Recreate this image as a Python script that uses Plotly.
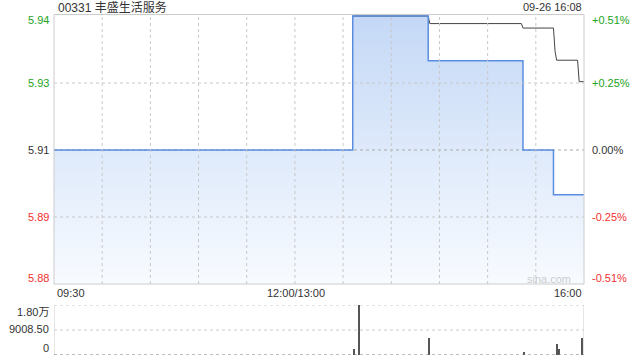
import plotly.graph_objects as go

# ---- data (x = trading minutes since 09:30, lunch break removed) ----
price_t = [0, 186, 233, 292, 311, 330]
price_v = [5.91, 5.94, 5.93, 5.91, 5.90, 5.90]

avg_t = [186, 233, 234, 291, 292, 311, 312, 313, 326, 327, 330]
avg_v = [5.94, 5.94, 5.9383, 5.9383, 5.9373, 5.9373, 5.932, 5.9301, 5.9301, 5.9253, 5.9253]

vol_t = [186.7, 189.8, 233.5, 292.8, 313.0, 314.2, 328.8, 330.6]
vol_v = [2160, 18017, 6230, 970, 3960, 2160, 6230, 6230]

prev_close = 5.91
y_ticks = [5.94, 5.925, 5.91, 5.895, 5.88]
y_labels = ["5.94", "5.93", "5.91", "5.89", "5.88"]
pct_labels = ["+0.51%", "+0.25%", "0.00%", "-0.25%", "-0.51%"]
vol_ticks = [18017, 9008.5, 0]
vol_labels = ["1.80万", "9008.50", "0"]
x_labels = ["09:30", "12:00/13:00", "16:00"]
title_text = "00331 丰盛生活服务"
time_text = "09-26 16:08"

GREEN = "#22a322"
RED = "#f23030"
DARK = "#333333"
FONT = "Liberation Sans, Arial, Noto Sans CJK SC, sans-serif"

fig = go.Figure()

# gradient fill under the price line
fig.add_trace(go.Scatter(
    x=price_t, y=price_v, mode="lines", line=dict(width=0, shape="hv"),
    fill="tozeroy",
    fillgradient=dict(type="vertical", colorscale=[[0, "#f8fbff"], [1, "#c4d8f6"]], start=5.88, stop=5.94),
    xaxis="x", yaxis="y", hoverinfo="skip", showlegend=False))

# previous close reference line
fig.add_trace(go.Scatter(
    x=[0, 330], y=[prev_close, prev_close], mode="lines",
    line=dict(color="#aaaaaa", width=1, dash="dot"),
    xaxis="x", yaxis="y", hoverinfo="skip", showlegend=False))

# average price line
fig.add_trace(go.Scatter(
    x=avg_t, y=avg_v, mode="lines", line=dict(color="#444444", width=1),
    xaxis="x", yaxis="y", hoverinfo="skip", showlegend=False))

# price line
fig.add_trace(go.Scatter(
    x=price_t, y=price_v, mode="lines", line=dict(color="#5a8de0", width=1.5, shape="hv"),
    xaxis="x", yaxis="y", hoverinfo="skip", showlegend=False))

fig.add_trace(go.Bar(
    x=vol_t, y=vol_v, width=0.7, marker=dict(color="#555555", line=dict(width=0)),
    xaxis="x2", yaxis="y2", hoverinfo="skip", showlegend=False))

xdom = [54 / 640, 584 / 640]
ppu = 268 / 0.06  # pixels per price unit
y_top = 5.94 + 1.5 / ppu
ydom_main = [(360 - 284) / 360, (360 - 14.5) / 360]
ydom_vol = [(360 - 355) / 360, (360 - 305) / 360]

fig.update_layout(
    width=640, height=360, margin=dict(l=0, r=0, t=0, b=0),
    paper_bgcolor="white", plot_bgcolor="white",
    font=dict(family=FONT, size=11, color=DARK),
    bargap=0,
    xaxis=dict(domain=xdom, range=[0, 330], showgrid=False, zeroline=False,
               showticklabels=False, ticks="", anchor="y"),
    yaxis=dict(domain=ydom_main, range=[5.88, y_top], showgrid=False, zeroline=False,
               showticklabels=False, ticks="", anchor="x"),
    xaxis2=dict(domain=xdom, range=[0, 330], showgrid=False, zeroline=False,
                showticklabels=False, ticks="", anchor="y2"),
    yaxis2=dict(domain=ydom_vol, range=[0, 18017], showgrid=False, zeroline=False,
                showticklabels=False, ticks="", anchor="x2"),
)

shapes = []
# vertical gridlines in main chart
for k in range(1, 11):
    shapes.append(dict(type="line", xref="x", yref="y", x0=30 * k, x1=30 * k, y0=5.88, y1=y_top,
                       line=dict(color="#c8c8c8", width=1, dash="dot"), layer="above"))
# horizontal gridlines
for yv in [5.925, 5.895]:
    shapes.append(dict(type="line", xref="x", yref="y", x0=0, x1=330, y0=yv, y1=yv,
                       line=dict(color="#c8c8c8", width=1, dash="dot"), layer="above"))
# main border
shapes.append(dict(type="rect", xref="x domain", yref="y domain", x0=0, x1=1, y0=0, y1=1,
                   line=dict(color="#cccccc", width=1), layer="above"))
# volume gridlines
for yv in [18017, 9008.5]:
    shapes.append(dict(type="line", xref="x2", yref="y2", x0=0, x1=330, y0=yv, y1=yv,
                       line=dict(color="#cccccc", width=1, dash="dot"), layer="below"))
shapes.append(dict(type="line", xref="x2", yref="y2", x0=0, x1=330, y0=0, y1=0,
                   line=dict(color="#777777", width=1, dash="dot"), layer="above"))
for xv in [0, 330]:
    shapes.append(dict(type="line", xref="x2", yref="y2", x0=xv, x1=xv, y0=0, y1=18017,
                       line=dict(color="#cccccc", width=1), layer="below"))
fig.update_layout(shapes=shapes)

ann = []
colors = [GREEN, GREEN, DARK, RED, RED]
shifts = [-4, 0, 0, 0, 6]
for yv, lab, pct, c, s in zip(y_ticks, y_labels, pct_labels, colors, shifts):
    ann.append(dict(xref="paper", yref="y", x=51 / 640, y=yv, yshift=s, text=lab, showarrow=False,
                    xanchor="right", yanchor="middle", font=dict(color=c, size=11)))
    ann.append(dict(xref="paper", yref="y", x=590 / 640, y=yv, yshift=s, text=pct, showarrow=False,
                    xanchor="left", yanchor="middle", font=dict(color=c, size=11)))
vshifts = [-7, 1, 7]
for yv, lab, s in zip(vol_ticks, vol_labels, vshifts):
    ann.append(dict(xref="paper", yref="y2", x=51 / 640, y=yv, yshift=s, text=lab, showarrow=False,
                    xanchor="right", yanchor="middle", font=dict(color=DARK, size=11)))
# x labels
xl_pos = [(55 / 640, "left"), (296 / 640, "center"), (584 / 640, "right")]
for (xp, anc), lab in zip(xl_pos, x_labels):
    ann.append(dict(xref="paper", yref="paper", x=xp, y=(360 - 293) / 360, text=lab, showarrow=False,
                    xanchor=anc, yanchor="middle", font=dict(color=DARK, size=11)))
ann.append(dict(xref="paper", yref="paper", x=56 / 640, y=(360 - 7) / 360, text=title_text, showarrow=False,
                xanchor="left", yanchor="middle", font=dict(color=DARK, size=12)))
ann.append(dict(xref="paper", yref="paper", x=584 / 640, y=(360 - 7) / 360, text=time_text, showarrow=False,
                xanchor="right", yanchor="middle", font=dict(color=DARK, size=11)))
ann.append(dict(xref="paper", yref="paper", x=573 / 640, y=(360 - 279) / 360, text="sina.com", showarrow=False,
                xanchor="right", yanchor="middle", font=dict(color="#cccccc", size=11)))
fig.update_layout(annotations=ann)

fig.write_html("out.html")
